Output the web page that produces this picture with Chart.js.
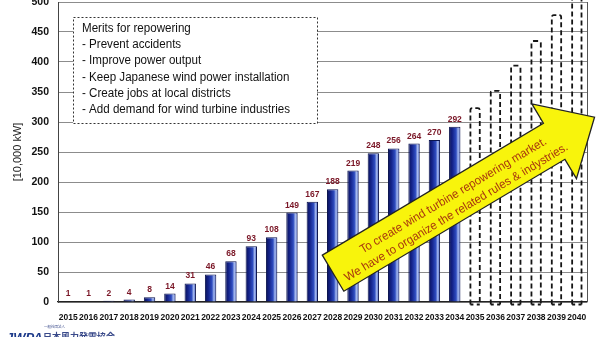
<!DOCTYPE html>
<html><head><meta charset="utf-8">
<script src="https://cdn.jsdelivr.net/npm/chart.js@4.4.1/dist/chart.umd.min.js"></script>
<style>html,body{margin:0;padding:0;background:#fff;}#wrap{width:600px;height:337px;position:relative;}</style>
</head><body><div id="wrap"><canvas id="c" width="600" height="337"></canvas></div>
<script>
// ---------- data ----------
const years = ['2015','2016','2017','2018','2019','2020','2021','2022','2023','2024','2025','2026','2027',
  '2028','2029','2030','2031','2032','2033','2034','2035','2036','2037','2038','2039','2040'];
const installed = [1,1,2,4,8,14,31,46,68,93,108,149,167,188,219,248,256,264,270,292,
  null,null,null,null,null,null];
const repowering = [null,null,null,null,null,null,null,null,null,null,null,null,null,null,null,null,null,null,null,null,
  323,352,394,435,478,520];
const yMin = 0, yMax = 500, yStep = 50;
const yAxisTitle = '[10,000 kW]';
const meritLines = ['Merits for repowering','- Prevent accidents','- Improve power output',
  '- Keep Japanese wind power installation','- Create jobs at local districts',
  '- Add demand for wind turbine industries'];
const arrowLines = ['To create wind turbine repowering market.',
  'We have to organize the related rules & indystries.'];
const orgSmall = '一般社団法人';
const orgName = '日本風力発電協会';
const orgLogo = 'JWPA';

// ---------- fonts ----------
function hasFont(name){
  const c = document.createElement('canvas').getContext('2d');
  const s = 'abcdefghijklmnopqrstuvwxyz0123456789';
  c.font = '20px monospace'; const a = c.measureText(s).width;
  c.font = '20px "' + name + '", monospace'; return Math.abs(c.measureText(s).width - a) > 0.5;
}
const NARROW = hasFont('Liberation Sans Narrow');
const BASE = "'Liberation Sans', Arial, sans-serif";
const NARROWF = NARROW ? "'Liberation Sans Narrow', 'Liberation Sans', sans-serif" : BASE;

const SOLID_PCT = 0.56, DASH_PCT = 0.46;

function barFill(ctx){
  const chart = ctx.chart;
  const xs = chart.scales && chart.scales.x;
  if (!chart.chartArea || !xs) return '#1b2f9a';
  const cx = xs.getPixelForValue(ctx.dataIndex);
  const w = (xs.width / years.length) * SOLID_PCT;
  const g = chart.ctx.createLinearGradient(cx - w/2, 0, cx + w/2, 0);
  g.addColorStop(0, '#0a1258');
  g.addColorStop(0.3, '#14238a');
  g.addColorStop(0.62, '#2e4cc0');
  g.addColorStop(0.8, '#a9bcf0');
  g.addColorStop(0.92, '#5a74d0');
  g.addColorStop(1, '#1a2670');
  return g;
}

// ---------- plugins ----------
const decor = {
  id: 'decor',
  beforeDatasetsDraw(chart){
    const {ctx, chartArea: a} = chart;
    ctx.save();
    ctx.strokeStyle = '#555'; ctx.lineWidth = 1;
    ctx.beginPath(); ctx.moveTo(a.right + 0.5, a.top); ctx.lineTo(a.right + 0.5, a.bottom); ctx.stroke();
    // merits box
    const x0 = a.left + 15, y0 = a.top + 15, w = 244, h = 106;
    ctx.fillStyle = '#fff'; ctx.fillRect(x0, y0, w, h);
    ctx.setLineDash([2, 2]); ctx.strokeStyle = '#333'; ctx.lineWidth = 1;
    ctx.strokeRect(x0 + 0.5, y0 + 0.5, w, h);
    ctx.setLineDash([]);
    ctx.font = '12px ' + NARROWF; ctx.fillStyle = '#111'; ctx.textBaseline = 'alphabetic';
    let mw = 0; meritLines.forEach(l => mw = Math.max(mw, ctx.measureText(l).width));
    const sx = Math.min(1.15, 208 / mw);
    meritLines.forEach((l, i) => {
      ctx.save(); ctx.translate(x0 + 9, y0 + 15 + i * 16.2); ctx.scale(sx, 1);
      ctx.fillText(l, 0, 0); ctx.restore();
    });
    ctx.restore();
  },
  afterDatasetsDraw(chart){
    const {ctx, chartArea: a} = chart;
    const xs = chart.scales.x, ys = chart.scales.y;
    // dashed future bars
    const meta = chart.getDatasetMeta(1);
    ctx.save();
    ctx.beginPath(); ctx.rect(a.left, 0, a.width + 5, a.bottom + 6); ctx.clip();
    ctx.setLineDash([5, 3]); ctx.lineWidth = 1.8; ctx.strokeStyle = '#151515';
    meta.data.forEach((el, i) => {
      if (repowering[i] == null) return;
      const p = el.getProps(['x','y','base','width'], true);
      const l = p.x - p.width/2, r = p.x + p.width/2, t = p.y, b = p.base + 3;
      ctx.beginPath();
      ctx.moveTo(l, b); ctx.lineTo(l, t + 2); ctx.quadraticCurveTo(l, t, l + 2, t);
      ctx.lineTo(r - 2, t); ctx.quadraticCurveTo(r, t, r, t + 2); ctx.lineTo(r, b);
      ctx.stroke();
      ctx.setLineDash([]); ctx.beginPath();
      ctx.moveTo(l, b); ctx.lineTo(l + 3, b); ctx.moveTo(r, b); ctx.lineTo(r - 3, b); ctx.stroke();
      ctx.setLineDash([5, 3]);
    });
    ctx.restore();
    // value labels
    const m0 = chart.getDatasetMeta(0);
    ctx.save();
    ctx.font = 'bold 8.5px ' + BASE; ctx.fillStyle = '#7a1626';
    ctx.textAlign = 'center'; ctx.textBaseline = 'alphabetic';
    m0.data.forEach((el, i) => {
      if (installed[i] == null) return;
      const p = el.getProps(['x','y'], true);
      ctx.fillText(String(installed[i]), p.x, p.y - 5);
    });
    ctx.restore();
    // arrow (anchored through the scales)
    const S = {x: xs.getPixelForValue(13.02), y: ys.getPixelForValue(48)};
    const T = {x: xs.getPixelForValue(25.87), y: ys.getPixelForValue(308)};
    const dx = T.x - S.x, dy = T.y - S.y, L = Math.hypot(dx, dy);
    const u = {x: dx/L, y: dy/L}, n = {x: -u.y, y: u.x};
    const hw = 21, hh = 43.5, hl = 47;
    const B = {x: T.x - u.x*hl, y: T.y - u.y*hl};
    const pt = (P, k) => [P.x + n.x*k, P.y + n.y*k];
    const pts = [pt(S,-hw), pt(B,-hw), pt(B,-hh), [T.x, T.y], pt(B,hh), pt(B,hw), pt(S,hw)];
    ctx.save();
    ctx.beginPath(); pts.forEach((q, i) => i ? ctx.lineTo(q[0], q[1]) : ctx.moveTo(q[0], q[1]));
    ctx.closePath();
    ctx.fillStyle = '#f8f40c'; ctx.fill();
    ctx.strokeStyle = '#222'; ctx.lineWidth = 1.3; ctx.stroke();
    const ang = Math.atan2(dy, dx);
    ctx.font = '12px ' + NARROWF; ctx.fillStyle = '#a8380e';
    ctx.textAlign = 'center'; ctx.textBaseline = 'middle';
    const w2 = ctx.measureText(arrowLines[1]).width;
    const tsx = Math.min(1.2, 258 / w2);
    const place = [[143, -5], [137, 11]];
    arrowLines.forEach((line, i) => {
      const cx = S.x + u.x*place[i][0] + n.x*place[i][1];
      const cy = S.y + u.y*place[i][0] + n.y*place[i][1];
      ctx.save(); ctx.translate(cx, cy); ctx.rotate(ang); ctx.scale(tsx, 1);
      ctx.fillText(line, 0, 0); ctx.restore();
    });
    ctx.restore();
  },
  afterDraw(chart){
    const ctx = chart.ctx;
    ctx.save();
    ctx.fillStyle = '#1d3a8a';
    ctx.font = 'italic bold 13px ' + BASE; ctx.textBaseline = 'alphabetic';
    ctx.fillText(orgLogo, 6, 342);
    ctx.fillStyle = '#3a4a8a';
    ctx.font = '3.5px "Noto Sans CJK JP", sans-serif';
    ctx.fillText(orgSmall, 44, 328);
    ctx.font = 'bold 9px "Noto Sans CJK JP", sans-serif';
    ctx.fillText(orgName, 43, 340);
    ctx.restore();
  }
};

new Chart(document.getElementById('c'), {
  type: 'bar',
  data: {
    labels: years,
    datasets: [
      {label: 'installed', data: installed, backgroundColor: barFill, borderColor: '#0c154f', borderWidth: 1,
       barPercentage: SOLID_PCT, categoryPercentage: 1, grouped: false},
      {label: 'repowering', data: repowering, backgroundColor: 'rgba(0,0,0,0)', borderWidth: 0,
       barPercentage: DASH_PCT, categoryPercentage: 1, grouped: false}
    ]
  },
  options: {
    responsive: false, animation: false, devicePixelRatio: 1,
    layout: {padding: {top: 2, right: 13, left: 0, bottom: 0}},
    plugins: {legend: {display: false}, tooltip: {enabled: false}, title: {display: false}},
    scales: {
      x: {
        grid: {display: false, drawTicks: false},
        border: {display: true, color: '#222', width: 1.2},
        ticks: {autoSkip: false, maxRotation: 0, minRotation: 0, padding: 11, color: '#111',
          font: NARROW ? {family: NARROWF, size: 9.5, weight: 'bold'} : {family: BASE, size: 8.5, weight: 'bold'}},
        afterFit(s){ s.height = 35; s.paddingLeft = 0; s.paddingRight = 0; }
      },
      y: {
        min: yMin, max: yMax,
        grid: {color: '#8c8c8c', lineWidth: 1, drawTicks: false},
        border: {display: true, color: '#444', width: 1},
        ticks: {stepSize: yStep, padding: 9, color: '#111', font: {family: BASE, size: 10.5, weight: 'bold'}},
        title: {display: true, text: yAxisTitle, color: '#222', font: {family: BASE, size: 11}, padding: {top: 11, bottom: 0}},
        afterFit(s){ s.width = 58; s.paddingTop = 0; s.paddingBottom = 0; }
      }
    }
  },
  plugins: [decor]
});
</script></body></html>
